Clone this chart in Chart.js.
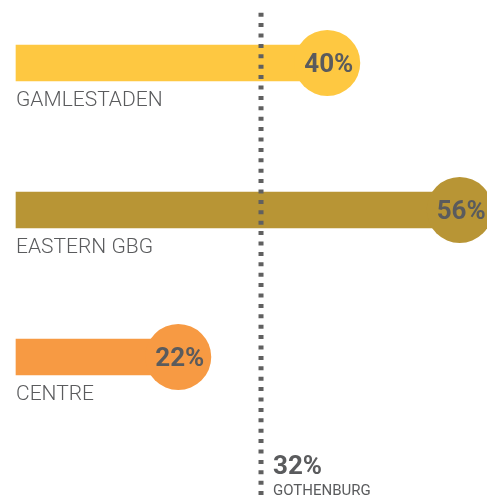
<!DOCTYPE html>
<html>
<head>
<meta charset="utf-8">
<script src="https://cdn.jsdelivr.net/npm/chart.js@4/dist/chart.umd.min.js"></script>
<style>
    html, body { margin: 0; padding: 0; background: #fff; }
    #wrap { width: 487px; height: 496px; position: relative; }
</style>
</head>
<body>
<div id="wrap"><canvas id="chart"></canvas></div>
<script>
// data
const categories = ['GAMLESTADEN', 'EASTERN GBG', 'CENTRE'];
const shares = [40, 56, 22];
const city_name = 'GOTHENBURG';
const city_share = 32;

const bar_colors = ['#FEC841', '#B89535', '#F79A43'];
const text_grey = '#5A5B5D';
const x_min = 2.4;
const x_max = 59.3;

const circles_plugin = {
    id: 'circles',
    afterDatasetsDraw: chart => {
        const ctx = chart.ctx;
        const x = chart.scales.x;
        const y = chart.scales.y;
        ctx.save();
        shares.forEach((v, i) => {
            const cx = x.getPixelForValue(v);
            const cy = y.getPixelForValue(i);
            ctx.fillStyle = bar_colors[i];
            ctx.beginPath();
            ctx.arc(cx, cy, 33, 0, Math.PI * 2);
            ctx.fill();

            ctx.fillStyle = text_grey;
            ctx.font = 'bold 26px Roboto';
            ctx.textAlign = 'center';
            ctx.textBaseline = 'middle';
            ctx.fillText(v + '%', cx + 1.5, cy + 2);

            // category label under the bar
            ctx.font = '300 21px Roboto';
            ctx.textAlign = 'left';
            ctx.textBaseline = 'alphabetic';
            ctx.fillText(categories[i], chart.chartArea.left, cy + 18 + 25);
        });

        // dotted reference line
        const lx = x.getPixelForValue(city_share);
        ctx.strokeStyle = '#606060';
        ctx.lineWidth = 5;
        ctx.setLineDash([4, 6.4]);
        ctx.beginPath();
        ctx.moveTo(lx, 12.7);
        ctx.lineTo(lx, chart.height);
        ctx.stroke();
        ctx.setLineDash([]);

        ctx.fillStyle = text_grey;
        ctx.textAlign = 'left';
        ctx.font = 'bold 26px Roboto';
        ctx.fillText(city_share + '%', lx + 12, 473.5);
        ctx.font = '15px Roboto';
        ctx.fillText(city_name, lx + 12, 494.5);
        ctx.restore();
    }
};

const init_graph = () => {
    const ctx = document.getElementById('chart').getContext('2d');
    new Chart(ctx, {
        type: 'bar',
        data: {
            labels: categories,
            datasets: [{
                data: shares.map(v => [x_min, v]),
                backgroundColor: bar_colors,
                borderWidth: 0,
                barThickness: 36,
                clip: false,
            }],
        },
        options: {
            indexAxis: 'y',
            responsive: true,
            maintainAspectRatio: false,
            animation: false,
            layout: { padding: { left: 16, right: 0, top: 63, bottom: 139 } },
            scales: {
                x: { type: 'linear', display: false, min: x_min, max: x_max },
                y: { type: 'category', display: false, offset: false, grid: { display: false } },
            },
            plugins: {
                legend: { display: false },
                tooltip: { enabled: false },
            },
        },
        plugins: [circles_plugin],
    });
};

init_graph();
</script>
</body>
</html>
